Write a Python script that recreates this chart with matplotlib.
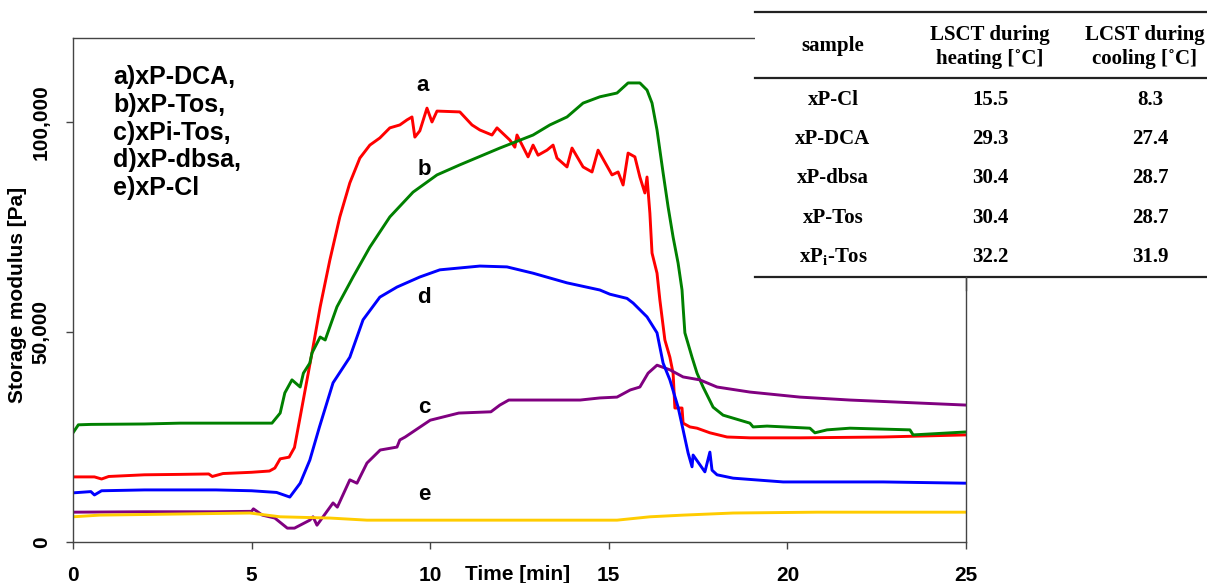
import numpy as np
import matplotlib.pyplot as plt
from matplotlib.patches import Rectangle
from matplotlib.lines import Line2D

plt.rcParams['font.family'] = ['Liberation Sans', 'DejaVu Sans']
plt.rcParams['mathtext.fontset'] = 'custom'
plt.rcParams['mathtext.bf'] = 'Liberation Serif:bold'
plt.rcParams['mathtext.rm'] = 'Liberation Serif:bold'

# a) xP-DCA (red)
t_a = [0, 0.6, 0.8, 1.0, 2.0, 3.0, 3.8, 3.9, 4.2, 5.0, 5.5, 5.65, 5.8, 6.05, 6.2, 6.36, 6.69, 6.92,
       7.19, 7.47, 7.75, 8.03, 8.31, 8.59, 8.87, 9.15, 9.35, 9.49, 9.57, 9.71, 9.91, 10.05, 10.19,
       10.83, 11.17, 11.39, 11.73, 11.87, 12.23, 12.37, 12.43, 12.74, 12.88, 13.02, 13.27, 13.44,
       13.55, 13.83, 13.97, 14.28, 14.53, 14.70, 15.09, 15.26, 15.40, 15.54, 15.73, 15.87, 16.01,
       16.07, 16.15, 16.21, 16.35, 16.43, 16.57, 16.71, 16.80, 16.85, 17.05, 17.08, 17.27, 17.47,
       17.83, 18.31, 18.95, 20.35, 22.68, 25.0]
g_a = [15.5, 15.5, 15.0, 15.6, 16.0, 16.1, 16.2, 15.6, 16.3, 16.6, 16.9, 17.6, 19.8, 20.2, 22.5,
       29.8, 45.0, 56.0, 67.1, 77.4, 85.5, 91.4, 94.5, 96.2, 98.6, 99.3, 100.5, 101.2, 96.4, 97.9,
       103.3, 100.0, 102.6, 102.4, 99.3, 98.1, 96.9, 98.6, 95.7, 94.0, 96.9, 91.7, 94.5, 92.1, 93.3,
       94.5, 91.4, 89.3, 93.8, 89.3, 88.1, 93.3, 87.4, 88.1, 85.0, 92.6, 91.7, 86.9, 83.1, 86.9,
       78.3, 68.8, 64.0, 57.6, 48.1, 44.0, 40.2, 31.9, 31.9, 28.3, 27.4, 27.1, 26.0, 25.0, 24.8,
       24.8, 25.0, 25.5]

# b) xP-Tos (green)
t_b = [0, 0.15, 0.5, 2.0, 3.0, 4.0, 5.57, 5.8, 5.93, 6.13, 6.36, 6.45, 6.63, 6.69, 6.92, 7.06,
       7.39, 7.84, 8.31, 8.87, 9.52, 10.19, 10.83, 11.95, 12.88, 13.35, 13.83, 14.28, 14.75, 15.23,
       15.54, 15.87, 16.07, 16.21, 16.35, 16.52, 16.66, 16.80, 16.94, 17.05, 17.08, 17.13, 17.33,
       17.47, 17.64, 17.92, 18.2, 18.95, 19.04, 19.43, 20.63, 20.77, 21.11, 21.75, 23.43, 23.52, 25.0]
g_b = [26.0, 27.9, 28.0, 28.1, 28.3, 28.3, 28.3, 30.7, 35.5, 38.6, 36.9, 40.2, 42.6, 45.0, 48.8,
       48.1, 56.0, 63.1, 70.2, 77.4, 83.3, 87.4, 89.8, 93.8, 96.9, 99.3, 101.2, 104.5, 106.0, 106.9,
       109.3, 109.3, 107.6, 104.5, 98.1, 87.9, 79.8, 72.6, 66.4, 60.0, 56.0, 49.8, 44.0, 40.2, 36.9,
       32.1, 30.2, 28.3, 27.4, 27.6, 27.1, 26.0, 26.7, 27.1, 26.7, 25.5, 26.2]

# c) xPi-Tos (purple)
t_c = [0, 2.0, 4.0, 5.0, 5.05, 5.3, 5.65, 6.0, 6.2, 6.63, 6.72, 6.83, 7.0, 7.28, 7.4, 7.75, 7.95,
       8.23, 8.6, 9.07, 9.15, 9.3, 10.0, 10.8, 11.7, 11.95, 12.2, 13.1, 14.2, 14.75, 15.23, 15.6,
       15.87, 16.1, 16.35, 16.71, 17.08, 17.55, 18.03, 18.95, 20.35, 21.75, 25.0]
g_c = [7.1, 7.2, 7.2, 7.3, 7.9, 6.4, 5.7, 3.3, 3.3, 5.2, 6.0, 4.0, 6.0, 9.3, 8.3, 14.8, 14.0,
       18.8, 21.9, 22.6, 24.3, 25.0, 29.0, 30.7, 31.0, 32.6, 33.8, 33.8, 33.8, 34.3, 34.5, 36.2,
       36.9, 40.2, 42.1, 41.0, 39.3, 38.6, 36.9, 35.7, 34.5, 33.8, 32.6]

# d) xP-dbsa (blue)
t_d = [0, 0.5, 0.6, 0.8, 2.0, 4.0, 5.0, 5.7, 6.07, 6.36, 6.63, 6.9, 7.28, 7.75, 8.12, 8.59, 9.07,
       9.71, 10.27, 11.39, 12.15, 12.88, 13.83, 14.75, 15.03, 15.51, 15.68, 16.07, 16.35, 16.52,
       16.71, 16.94, 17.08, 17.22, 17.33, 17.36, 17.69, 17.83, 17.89, 18.03, 18.48, 19.88, 22.68, 25.0]
g_d = [11.7, 12.0, 11.2, 12.2, 12.4, 12.4, 12.2, 11.8, 10.7, 14.0, 19.5, 27.4, 37.9, 44.0, 52.9,
       58.3, 60.7, 63.1, 64.8, 65.7, 65.5, 64.0, 61.7, 60.0, 59.0, 58.0, 56.9, 53.6, 49.8, 42.6,
       38.6, 32.1, 26.7, 21.2, 17.9, 20.7, 16.7, 21.4, 17.1, 16.0, 15.2, 14.3, 14.3, 14.0]

# e) xP-Cl (yellow)
t_e = [0, 0.75, 4.95, 5.8, 7.2, 8.23, 13.35, 15.23, 16.15, 17.08, 18.48, 20.83, 25.0]
g_e = [6.0, 6.4, 6.9, 6.0, 5.7, 5.2, 5.2, 5.2, 6.0, 6.4, 6.9, 7.1, 7.1]

legend_lines = ['a)xP-DCA,', 'b)xP-Tos,', 'c)xPi-Tos,', 'd)xP-dbsa,', 'e)xP-Cl']

samples = ['xP-Cl', 'xP-DCA', 'xP-dbsa', 'xP-Tos', 'xP$_{\\mathbf{i}}$-Tos']
heating = ['15.5', '29.3', '30.4', '30.4', '32.2']
cooling = ['8.3', '27.4', '28.7', '28.7', '31.9']

W, H = 1207, 583
fig = plt.figure(figsize=(W / 100, H / 100), dpi=100)
ax = fig.add_axes([73 / W, 1 - 542 / H, (966 - 73) / W, (542 - 38) / H])

series = [(t_a, g_a, '#ff0000'), (t_b, g_b, '#008000'), (t_c, g_c, '#800080'),
          (t_d, g_d, '#0000ff'), (t_e, g_e, '#ffcc00')]
for t, g, c in series:
    ax.plot(t, np.array(g) * 1000, color=c, lw=2.1)

ax.set_xlim(0, 25)
ax.set_ylim(0, 120000)
ax.set_xticks([0, 5, 10, 15, 20, 25])
ax.set_yticks([0, 50000, 100000])
ax.set_yticklabels([f'{v:,}' for v in [0, 50000, 100000]], rotation=90, va='center')
ax.tick_params(direction='out', length=5, width=1, color='#444444', labelsize=15)
ax.tick_params(axis='x', pad=12)
ax.tick_params(axis='y', pad=11)
for lab in ax.get_xticklabels() + ax.get_yticklabels():
    lab.set_fontweight('bold')
for sp in ax.spines.values():
    sp.set_color('#444444')
    sp.set_linewidth(1)

ax.set_ylabel('Storage modulus [Pa]', fontsize=15, fontweight='bold', va='center')
ax.yaxis.set_label_coords(-0.062, 0.49)
fig.text(518 / W, 1 - 574 / H, 'Time [min]', ha='center', va='center',
         fontsize=15, fontweight='bold')

ax.text(113 / W, 1 - 65 / H, '\n'.join(legend_lines), transform=fig.transFigure,
        ha='left', va='top', fontsize=18, fontweight='bold', linespacing=1.2)

for ch, xx, yy in [('a', 9.8, 108.8), ('b', 9.83, 88.6), ('c', 9.83, 32.1),
                   ('d', 9.83, 58.1), ('e', 9.83, 11.2)]:
    ax.text(xx, yy * 1000, ch, ha='center', va='center', fontsize=16, fontweight='bold')

# table in the upper right corner
fig.add_artist(Rectangle((755 / W, 1 - 278 / H), 1 - 755 / W, 278 / H,
                         transform=fig.transFigure, facecolor='white', edgecolor='none', zorder=5))
for yy in [12, 78, 277]:
    fig.add_artist(Line2D([755 / W, 1], [1 - yy / H] * 2, transform=fig.transFigure,
                          color='#222222', lw=1.6, zorder=6))
fig.add_artist(Line2D([966 / W] * 2, [1 - 277 / H, 1 - 290 / H], transform=fig.transFigure,
                      color='#444444', lw=1, zorder=6))

tkw = dict(ha='center', va='center', fontsize=15, fontweight='bold',
           family=['Liberation Serif', 'DejaVu Serif'], zorder=7)
fig.text(833 / W, 1 - 46 / H, 'sample', **tkw)
fig.text(990 / W, 1 - 47 / H, 'LSCT during\nheating [˚C]', linespacing=1.3, **tkw)
fig.text(1145 / W, 1 - 47 / H, 'LCST during\ncooling [˚C]', linespacing=1.3, **tkw)
for i, (s, h, c) in enumerate(zip(samples, heating, cooling)):
    yy = 1 - (100 + 39.2 * i) / H
    fig.text(833 / W, yy, s, **tkw)
    fig.text(990 / W, yy, h, **tkw)
    fig.text(1150 / W, yy, c, **tkw)

fig.savefig('out.png', dpi=100)
